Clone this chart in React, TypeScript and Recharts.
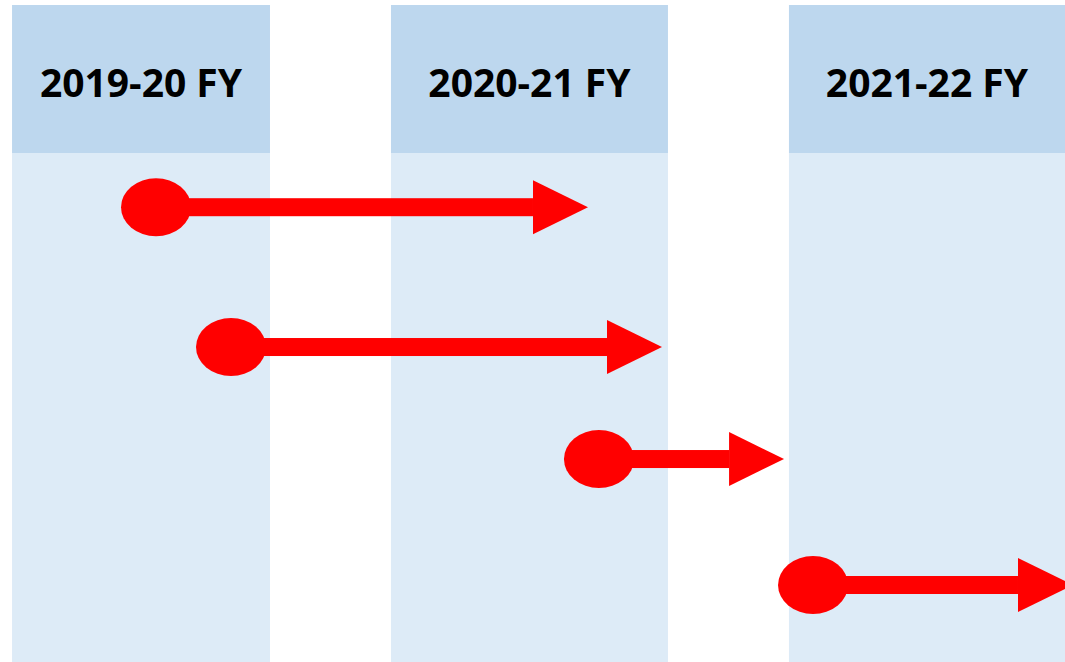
import React from 'react';
import { ComposedChart, XAxis, YAxis, ReferenceArea, ReferenceLine, Scatter, Label } from 'recharts';

// Positions on a 0–100 timeline (x) and 0–100 page depth (y, top = 0)
const yearLabels = ['2019-20 FY', '2020-21 FY', '2021-22 FY'];
const yearStarts = [1.13, 36.71, 74.08];
const yearEnds = [25.35, 62.72, 100];
const headerTop = 0.76;
const headerBottom = 23.1;
const bodyBottom = 100;

const arrowStarts = [14.65, 21.69, 56.24, 76.34];
const arrowEnds = [55.21, 62.16, 73.62, 100.75];
const arrowRows = [31.3, 52.42, 69.34, 88.37];

const arrows = arrowStarts.map((s, i) => ({ start: s, end: arrowEnds[i], row: arrowRows[i] }));

const RED = '#FF0000';
const HEADER = '#BDD7EE';
const BODY = '#DDEBF7';

const ArrowShape = (props: any) => {
  const { x1, y1, x2 } = props;
  const headLen = 55;
  const headHalf = 27;
  const shaftHalf = 9;
  const shaftEnd = x2 - headLen;
  return (
    <g>
      <rect x={x1} y={y1 - shaftHalf} width={Math.max(0, shaftEnd - x1)} height={shaftHalf * 2} fill={RED} />
      <polygon points={`${shaftEnd},${y1 - headHalf} ${x2},${y1} ${shaftEnd},${y1 + headHalf}`} fill={RED} />
    </g>
  );
};

const DotShape = (props: any) => {
  const { cx, cy } = props;
  return <ellipse cx={cx} cy={cy} rx={35} ry={29} fill={RED} />;
};

export default function App() {
  return (
    <div style={{ position: 'absolute', left: 0, top: 0, width: 1065, height: 662, overflow: 'hidden', background: '#fff' }}>
      <ComposedChart width={1065} height={662} data={arrows} margin={{ top: 0, right: 0, bottom: 0, left: 0 }}>
        <XAxis type="number" dataKey="start" domain={[0, 100]} allowDataOverflow hide />
        <YAxis type="number" dataKey="row" domain={[0, 100]} reversed allowDataOverflow hide />
        {yearLabels.map((label, i) => (
          <ReferenceArea
            key={'b' + i}
            x1={yearStarts[i]}
            x2={yearEnds[i]}
            y1={headerBottom}
            y2={bodyBottom}
            fill={BODY}
            fillOpacity={1}
            stroke="none"
            ifOverflow="visible"
          />
        ))}
        {yearLabels.map((label, i) => (
          <ReferenceArea
            key={'h' + i}
            x1={yearStarts[i]}
            x2={yearEnds[i]}
            y1={headerTop}
            y2={headerBottom}
            fill={HEADER}
            fillOpacity={1}
            stroke="none"
            ifOverflow="visible"
          >
            <Label
              value={label}
              position="center"
              fill="#000"
              fontSize={39}
              fontWeight={700}
              dy={4}
              fontFamily="'Open Sans', sans-serif"
            />
          </ReferenceArea>
        ))}
        {arrows.map((a, i) => (
          <ReferenceLine
            key={'a' + i}
            segment={[{ x: a.start, y: a.row }, { x: a.end, y: a.row }]}
            ifOverflow="visible"
            shape={ArrowShape}
          />
        ))}
        <Scatter dataKey="row" fill={RED} shape={DotShape} isAnimationActive={false} />
      </ComposedChart>
    </div>
  );
}
